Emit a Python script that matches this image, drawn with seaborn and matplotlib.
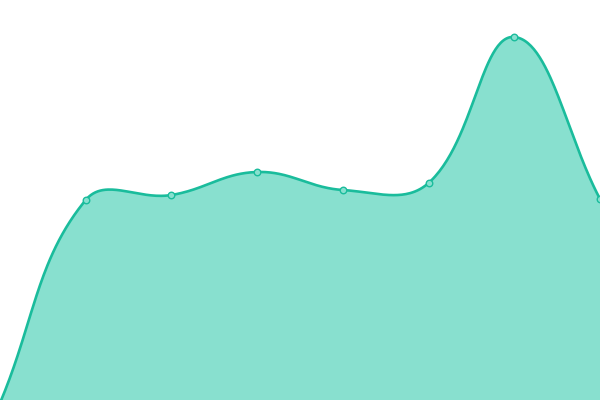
import numpy as np
import pandas as pd
import seaborn as sns
import matplotlib
matplotlib.use("Agg")
import matplotlib.pyplot as plt

# data
labels = ["A", "B", "C", "D", "E", "F", "G", "H"]
values = [-3, 200, 205, 228, 210, 217, 363, 201]

LINE = "#1abc9c"
FILL = "#88e0cf"

# smooth the line like a tension-0.4 spline, done in pixel-ish space
xs = np.arange(len(values)) * (600 / (len(values) - 1))
ys = np.array(values, dtype=float)
pts = np.column_stack([xs, ys])
t = 0.4
prev_cp, next_cp = [], []
for i in range(len(pts)):
    p0 = pts[max(i - 1, 0)]
    p1 = pts[i]
    p2 = pts[min(i + 1, len(pts) - 1)]
    d01 = np.hypot(*(p1 - p0))
    d12 = np.hypot(*(p2 - p1))
    s = d01 + d12
    fa = t * d01 / s if s else 0
    fb = t * d12 / s if s else 0
    prev_cp.append(p1 - fa * (p2 - p0))
    next_cp.append(p1 + fb * (p2 - p0))

u = np.linspace(0, 1, 60)[:, None]
curve = []
for i in range(len(pts) - 1):
    a, b, c, d = pts[i], next_cp[i], prev_cp[i + 1], pts[i + 1]
    seg = (1 - u) ** 3 * a + 3 * (1 - u) ** 2 * u * b + 3 * (1 - u) * u ** 2 * c + u ** 3 * d
    curve.append(seg if i == 0 else seg[1:])
curve = np.vstack(curve)
smooth = pd.DataFrame({"x": curve[:, 0] / (600 / (len(values) - 1)), "y": curve[:, 1]})
df = pd.DataFrame({"x": np.arange(len(values)), "y": values, "label": labels})

fig = plt.figure(figsize=(6, 4), dpi=100)
ax = fig.add_axes([0, 0, 1, 1])

ax.fill_between(smooth["x"], smooth["y"], 0, color=FILL, lw=0)
sns.lineplot(data=smooth, x="x", y="y", ax=ax, color=LINE, lw=1.9, sort=False)
sns.scatterplot(data=df, x="x", y="y", ax=ax, s=22, color=FILL, edgecolor=LINE,
                linewidth=1.0, zorder=5)

ax.set_xlim(0, len(values) - 1)
ax.set_ylim(0, 400)
ax.axis("off")

fig.savefig("out.png", dpi=100)
